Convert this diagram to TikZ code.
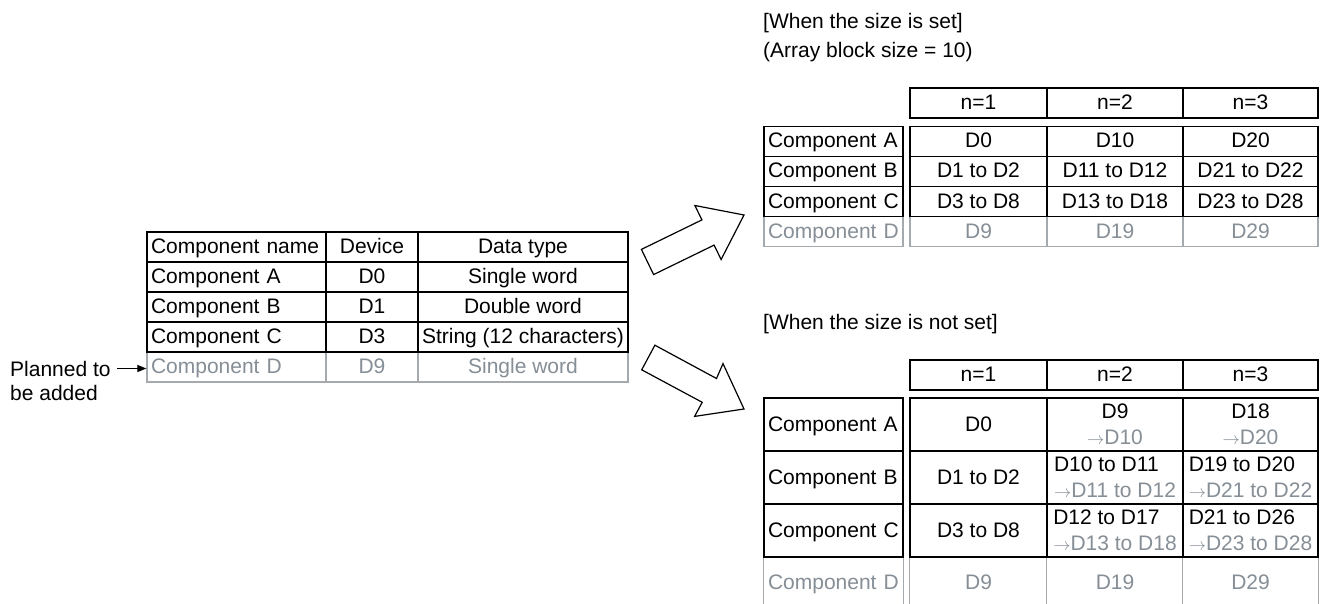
\documentclass[tikz,border=0pt]{standalone}
\usepackage{fontspec}
\setmainfont{Liberation Sans}
\usetikzlibrary{arrows.meta}
\definecolor{gtxt}{RGB}{134,142,150}
\definecolor{gln}{RGB}{165,170,175}
\newcommand\arr{{\fontsize{17}{17}\selectfont$\rightarrow$}}
\begin{document}
\begin{tikzpicture}[x=1pt,y=-1pt,
  every node/.style={font=\fontsize{21}{26}\selectfont, inner sep=0pt},
  frame/.style={draw=black, line width=1.3pt, minimum width=#1},
  cell/.style={frame=#1, minimum height=30pt, text height=14pt, text depth=1pt},
  tall/.style={frame=#1, minimum height=53pt},
  gcell/.style={cell=#1, draw=gln, text=gtxt},
  lcell/.style={draw=black, line width=1.3pt, minimum height=30pt, text width=#1, align=left, inner xsep=4pt, text height=14pt, text depth=1pt},
  glcell/.style={lcell=#1, draw=gln, text=gtxt},
  gtext/.style={text=gtxt, text height=14pt, text depth=1pt},
  gline/.style={draw=gln, line width=1.3pt},
  blockarrow/.style={draw=black, line width=1.2pt, fill=white, line join=miter},
  pointer/.style={draw=black, line width=1.2pt, -{Triangle[length=9pt,width=7pt]}}
]
\fill[white] (0,0) rectangle (1327,604);
\path[use as bounding box] (0,0) rectangle (1327,604);

% ---------- left table ----------
\node[glcell=171pt] (LDn) at (236.5,367) {Component D};
\node[gcell=92pt]   (LDd) at (372,367) {D9};
\node[gcell=210pt]  (LDt) at (523,367) {Single word};
\node[lcell=171pt] (LHn) at (236.5,247) {Component name};
\node[cell=92pt]   (LHd) at (372,247) {Device};
\node[cell=210pt]  (LHt) at (523,247) {Data type};
\node[lcell=171pt] (LAn) at (236.5,277) {Component A};
\node[cell=92pt]   (LAd) at (372,277) {D0};
\node[cell=210pt]  (LAt) at (523,277) {Single word};
\node[lcell=171pt] (LBn) at (236.5,307) {Component B};
\node[cell=92pt]   (LBd) at (372,307) {D1};
\node[cell=210pt]  (LBt) at (523,307) {Double word};
\node[lcell=171pt] (LCn) at (236.5,337) {Component C};
\node[cell=92pt]   (LCd) at (372,337) {D3};
\node[cell=210pt]  (LCt) at (523,337) {String (12 characters)};

% ---------- planned to be added ----------
\node[anchor=base west] (plan1) at (10,376) {Planned to};
\node[anchor=base west] (plan2) at (10,400.5) {be added};
\draw[pointer, shorten <=6pt] (plan1.east) -- (plan1.east -| LDn.west);

% ---------- block arrows ----------
\draw[blockarrow] (641.4,249.4) -- (701.9,219.9) -- (694.9,205.5) -- (744,215)
  -- (721.1,259.5) -- (714.1,245.1) -- (653.6,274.6) -- cycle;
\draw[blockarrow] (654.9,345.2) -- (716.5,378.5) -- (723.0,363.6) -- (744,409)
  -- (694.6,416.4) -- (702.2,402.3) -- (641.7,369.8) -- cycle;

% ---------- top right: size set ----------
\node[anchor=base west] (title1) at (763,28.5) {[When the size is set]};
\node[anchor=base west] (title2) at (763,58) {(Array block size = 10)};

\node[cell=137pt] (TH1) at (978.5,103) {n=1};
\node[cell=136pt] (TH2) at (1115,103) {n=2};
\node[cell=135pt] (TH3) at (1250.5,103) {n=3};

\node[glcell=131pt] (TDn) at (833.5,231.5) {Component D};
\node[gcell=137pt] (TD1) at (978.5,231.5) {D9};
\node[gcell=136pt] (TD2) at (1115,231.5) {D19};
\node[gcell=135pt] (TD3) at (1250.5,231.5) {D29};

\node[lcell=131pt] (TAn) at (833.5,141.5) {Component A};
\node[cell=137pt] (TA1) at (978.5,141.5) {D0};
\node[cell=136pt] (TA2) at (1115,141.5) {D10};
\node[cell=135pt] (TA3) at (1250.5,141.5) {D20};
\node[lcell=131pt] (TBn) at (833.5,171.5) {Component B};
\node[cell=137pt] (TB1) at (978.5,171.5) {D1 to D2};
\node[cell=136pt] (TB2) at (1115,171.5) {D11 to D12};
\node[cell=135pt] (TB3) at (1250.5,171.5) {D21 to D22};
\node[lcell=131pt] (TCn) at (833.5,201.5) {Component C};
\node[cell=137pt] (TC1) at (978.5,201.5) {D3 to D8};
\node[cell=136pt] (TC2) at (1115,201.5) {D13 to D18};
\node[cell=135pt] (TC3) at (1250.5,201.5) {D23 to D28};

% ---------- bottom right: size not set ----------
\node[anchor=base west] (title3) at (763,329) {[When the size is not set]};

\node[cell=137pt] (BH1) at (978.5,375) {n=1};
\node[cell=136pt] (BH2) at (1115,375) {n=2};
\node[cell=135pt] (BH3) at (1250.5,375) {n=3};

\node[lcell=131pt, minimum height=53pt] (BAn) at (833.5,424.5) {Component A};
\node[cell=137pt, minimum height=53pt] (BA1) at (978.5,424.5) {D0};
\node[tall=136pt, align=center] (BA2) at (1115,424.5) {D9\\\textcolor{gtxt}{\arr D10}};
\node[tall=135pt, align=center] (BA3) at (1250.5,424.5) {D18\\\textcolor{gtxt}{\arr D20}};
\node[lcell=131pt, minimum height=53pt] (BBn) at (833.5,477.5) {Component B};
\node[cell=137pt, minimum height=53pt] (BB1) at (978.5,477.5) {D1 to D2};
\node[tall=136pt, align=left] (BB2) at (1115,477.5) {D10 to D11\\\textcolor{gtxt}{\arr D11 to D12}};
\node[tall=135pt, align=left] (BB3) at (1250.5,477.5) {D19 to D20\\\textcolor{gtxt}{\arr D21 to D22}};
\node[lcell=131pt, minimum height=53pt] (BCn) at (833.5,530.5) {Component C};
\node[cell=137pt, minimum height=53pt] (BC1) at (978.5,530.5) {D3 to D8};
\node[tall=136pt, align=left] (BC2) at (1115,530.5) {D12 to D17\\\textcolor{gtxt}{\arr D13 to D18}};
\node[tall=135pt, align=left] (BC3) at (1250.5,530.5) {D21 to D26\\\textcolor{gtxt}{\arr D23 to D28}};

\node[gtext, text width=131pt, align=left] (BDn) at (833.5,583) {Component D};
\node[gtext] (BD1) at (978.5,583) {D9};
\node[gtext] (BD2) at (1115,583) {D19};
\node[gtext] (BD3) at (1250.5,583) {D29};
\draw[gline] (BCn.south west) -- ++(0,48);
\draw[gline] (BCn.south east) -- ++(0,48);
\draw[gline] (BC1.south west) -- ++(0,48);
\draw[gline] (BC2.south west) -- ++(0,48);
\draw[gline] (BC3.south west) -- ++(0,48);
\draw[gline] (BC3.south east) -- ++(0,48);
\end{tikzpicture}
\end{document}
